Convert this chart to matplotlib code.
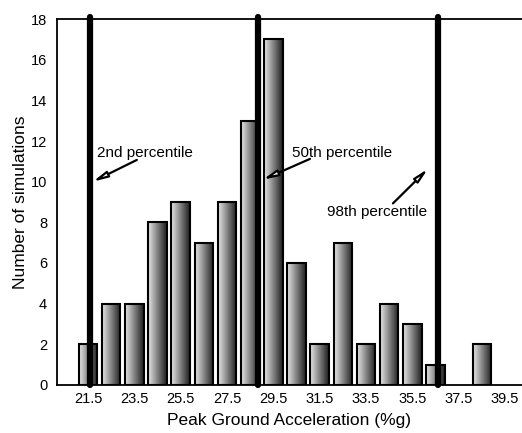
import numpy as np
import matplotlib
matplotlib.use('Agg')
import matplotlib.pyplot as plt
from matplotlib.patches import Rectangle

plt.rcParams['font.family'] = ['Liberation Sans', 'DejaVu Sans']

# histogram data
bin_centers = [21.5, 22.5, 23.5, 24.5, 25.5, 26.5, 27.5, 28.5, 29.5, 30.5,
               31.5, 32.5, 33.5, 34.5, 35.5, 36.5, 37.5, 38.5, 39.5]
counts = [2, 4, 4, 8, 9, 7, 9, 13, 17, 6, 2, 7, 2, 4, 3, 1, 0, 2, 0]
xtick_labels = ['21.5', '23.5', '25.5', '27.5', '29.5', '31.5', '33.5',
                '35.5', '37.5', '39.5']
percentiles = [21.6, 28.85, 36.6]
pct_labels = ['2nd percentile', '50th percentile', '98th percentile']

fig = plt.figure(figsize=(5.22, 4.33), dpi=100)
ax = fig.add_axes([0.109, 0.111, 0.891, 0.845])
ax.set_xlim(20.16, 40.23)
ax.set_ylim(0, 17.85)

grad = np.linspace(0.9, 0.12, 64).reshape(1, -1)
bw = 0.8
for xc, c in zip(bin_centers, counts):
    if c == 0:
        continue
    rect = Rectangle((xc - bw / 2, 0), bw, c, facecolor='none',
                     edgecolor='black', linewidth=1.5, zorder=3)
    ax.add_patch(rect)
    im = ax.imshow(grad, cmap='gray', vmin=0, vmax=1, aspect='auto',
                   extent=(xc - bw / 2, xc + bw / 2, 0, c), zorder=2)
    im.set_clip_path(rect)

for p in percentiles:
    ax.plot([p, p], [0, 18.1], color='black', linewidth=4.5,
            solid_capstyle='round', zorder=4, clip_on=False)

arrow = dict(arrowstyle='-|>,head_length=0.7,head_width=0.15',
             facecolor='white', edgecolor='black', lw=1.6,
             mutation_scale=12, shrinkA=0, shrinkB=0)
ax.annotate('', xy=(21.71, 10.0), xytext=(23.61, 11.07), arrowprops=arrow,
            zorder=5)
ax.text(21.89, 11.2, pct_labels[0], fontsize=11, va='baseline')
ax.annotate('', xy=(29.05, 10.1), xytext=(31.08, 11.12), arrowprops=arrow,
            zorder=5)
ax.text(30.3, 11.2, pct_labels[1], fontsize=11, va='baseline')
ax.annotate('', xy=(36.17, 10.63), xytext=(34.66, 8.93), arrowprops=arrow,
            zorder=5)
ax.text(31.81, 8.29, pct_labels[2], fontsize=11, va='baseline')

ax.set_xticks(bin_centers[::2])
ax.set_xticklabels(xtick_labels)
ax.set_yticks(range(0, 19, 2))
ax.tick_params(length=0, labelsize=10.5)
ax.tick_params(axis='y', pad=7)
ax.tick_params(axis='x', pad=5)
ax.spines['right'].set_visible(False)
for s in ['left', 'top', 'bottom']:
    ax.spines[s].set_linewidth(1.3)
ax.set_xlabel('Peak Ground Acceleration (%g)', fontsize=12.5, labelpad=5)
ax.set_ylabel('Number of simulations', fontsize=12.5, labelpad=2)

fig.savefig('out.png', dpi=100)
